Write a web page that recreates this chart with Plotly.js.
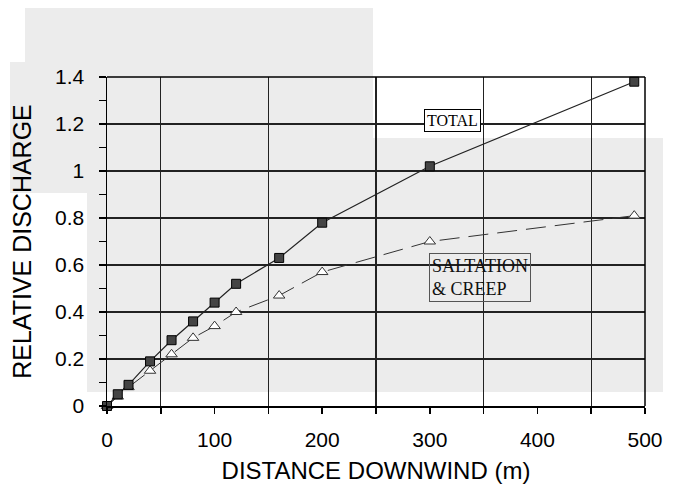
<!DOCTYPE html>
<html>
<head>
<meta charset="utf-8">
<script src="https://cdn.plot.ly/plotly-3.0.1.min.js"></script>
<style>
  html, body { margin: 0; padding: 0; background: #ffffff; }
  #wrap { position: relative; width: 675px; height: 498px; background: #ffffff; overflow: hidden; }
  .scan { position: absolute; background: #ececec; }
  #chart { position: absolute; left: 0; top: 0; width: 675px; height: 498px; }
</style>
</head>
<body>
<div id="wrap">
  <div class="scan" style="left:25px; top:8px; width:348px; height:54px;"></div>
  <div class="scan" style="left:10px; top:62px; width:363px; height:76px;"></div>
  <div class="scan" style="left:10px; top:138px; width:77px; height:55px;"></div>
  <div class="scan" style="left:87px; top:138px; width:576px; height:254px;"></div>
  <div id="chart"></div>
</div>
<script>
// ---- data ----
const distance  = [0, 10, 20, 40, 60, 80, 100, 120, 160, 200, 300, 490];
const total     = [0, 0.05, 0.09, 0.19, 0.28, 0.36, 0.44, 0.52, 0.63, 0.78, 1.02, 1.38];
const saltation = [0, 0.04, 0.08, 0.15, 0.22, 0.29, 0.34, 0.40, 0.47, 0.57, 0.70, 0.81];
const xTickVals = [0, 100, 200, 300, 400, 500];
const yTickVals = [0, 0.2, 0.4, 0.6, 0.8, 1, 1.2, 1.4];
const seriesNames = ["TOTAL", "SALTATION<br>& CREEP"];

const sans = "Liberation Sans, Arial, sans-serif";
const serif = "Liberation Serif, Times New Roman, serif";

const traces = [
  {
    x: distance, y: saltation, name: "SALTATION & CREEP",
    mode: "lines+markers", type: "scatter", cliponaxis: false,
    line: { color: "#333333", width: 1, dash: "20px,9px" },
    marker: { symbol: "triangle-up", size: 10, color: "#ffffff", line: { color: "#333333", width: 1 } }
  },
  {
    x: distance, y: total, name: "TOTAL",
    mode: "lines+markers", type: "scatter", cliponaxis: false,
    line: { color: "#222222", width: 1.2 },
    marker: { symbol: "square", size: 9, color: "#444444", line: { color: "#000000", width: 1 } }
  }
];

const layout = {
  width: 675, height: 498,
  margin: { l: 107, r: 30, t: 77, b: 92 },
  paper_bgcolor: "rgba(0,0,0,0)",
  plot_bgcolor: "rgba(0,0,0,0)",
  showlegend: false,
  font: { family: sans, color: "#000000", size: 21 },
  xaxis: {
    range: [0, 500],
    tickmode: "array", tickvals: xTickVals,
    ticks: "outside", ticklen: 6, tickwidth: 1.5, tickcolor: "#000",
    ticklabelstandoff: 8,
    showgrid: false, zeroline: false,
    showline: true, linecolor: "#000", linewidth: 2, mirror: false,
    tickfont: { family: sans, size: 21 },
    minor: { tick0: 50, dtick: 100, showgrid: true, gridcolor: "#222", gridwidth: 1.3,
             ticks: "outside", ticklen: 6, tickcolor: "#000", tickwidth: 1.5 },
    title: { text: "DISTANCE DOWNWIND (m)", font: { family: sans, size: 24 }, standoff: 12 }
  },
  yaxis: {
    range: [0, 1.4],
    tickmode: "array", tickvals: yTickVals,
    ticks: "outside", ticklen: 7, tickwidth: 1.2, tickcolor: "#000",
    ticklabelstandoff: 10,
    showgrid: true, gridcolor: "#222", gridwidth: 1.3,
    zeroline: false,
    showline: true, linecolor: "#000", linewidth: 1.5,
    tickfont: { family: sans, size: 21 },
    minor: { dtick: 0.1, ticks: "outside", ticklen: 7, tickcolor: "#000", tickwidth: 1.2, showgrid: false },
    title: { text: "RELATIVE DISCHARGE", font: { family: sans, size: 25 }, standoff: 16 }
  },
  shapes: [
    { type: "line", xref: "paper", yref: "paper", x0: 0, x1: 1, y0: 1, y1: 1, line: { color: "#000", width: 1.5 } },
    { type: "line", xref: "paper", yref: "paper", x0: 1, x1: 1, y0: 0, y1: 1, line: { color: "#000", width: 1.5 } }
  ],
  annotations: [
    { x: 321, y: 1.213, xref: "x", yref: "y", text: seriesNames[0], showarrow: false,
      font: { family: serif, size: 16, color: "#000" },
      bgcolor: "#ffffff", bordercolor: "#000", borderwidth: 1, borderpad: 2 },
    { x: 347, y: 0.545, xref: "x", yref: "y", text: seriesNames[1], showarrow: false, align: "left",
      font: { family: serif, size: 18, color: "#111" },
      bgcolor: "rgba(255,255,255,0)", bordercolor: "#555", borderwidth: 1, borderpad: 2 }
  ]
};

Plotly.newPlot("chart", traces, layout, { displayModeBar: false, staticPlot: true });
</script>
</body>
</html>
